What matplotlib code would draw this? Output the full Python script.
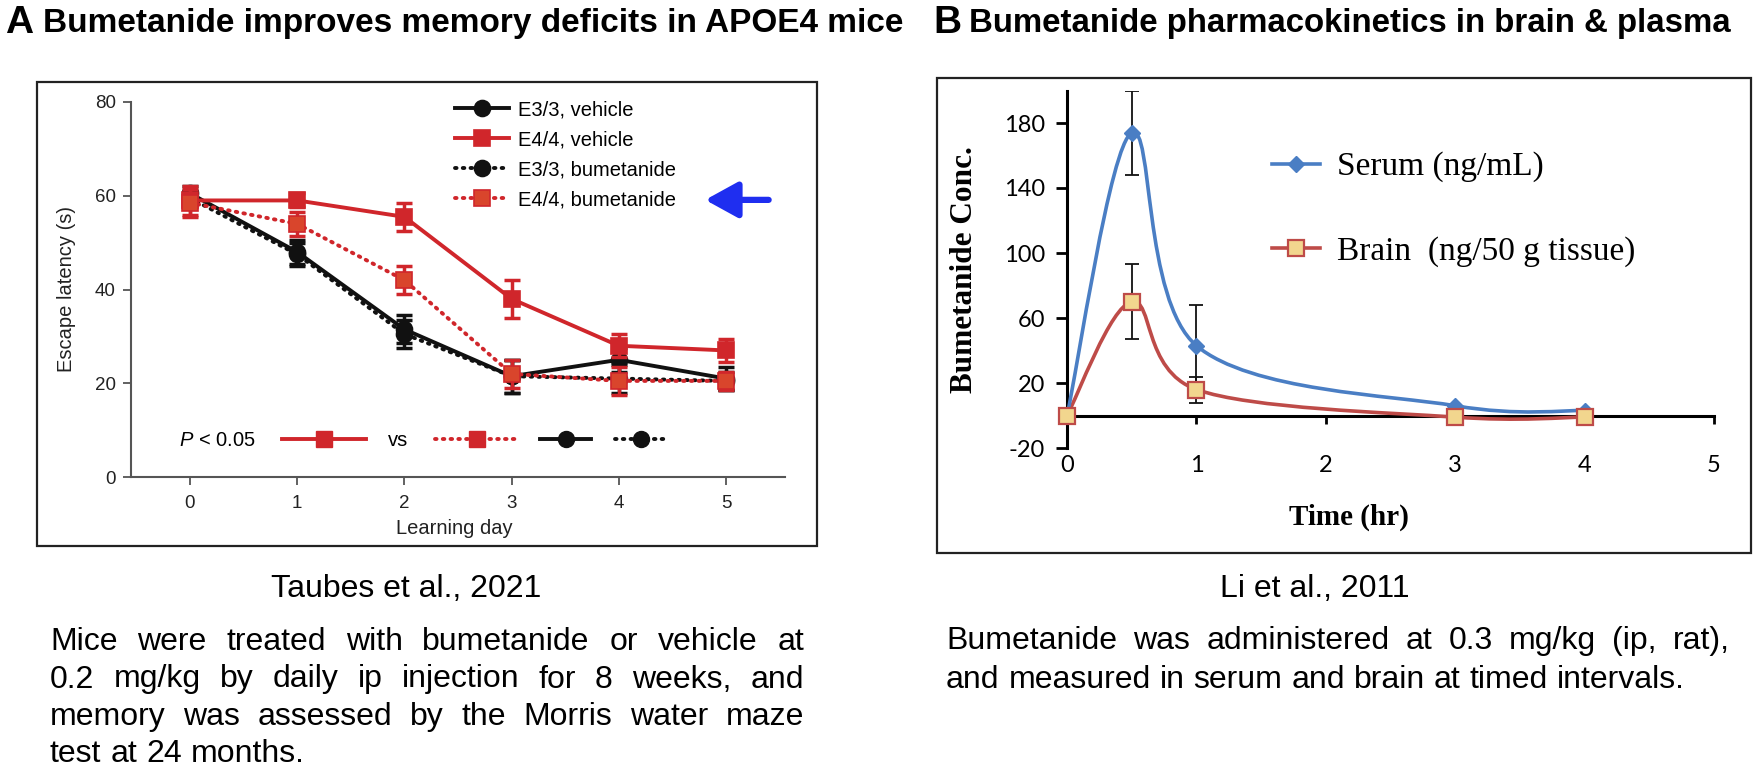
import numpy as np
import matplotlib
matplotlib.use('Agg')
import matplotlib.pyplot as plt
from matplotlib.patches import Rectangle, PathPatch
from matplotlib.path import Path
from matplotlib.lines import Line2D
from matplotlib.legend_handler import HandlerLine2D

plt.rcParams['font.family'] = ['Liberation Sans', 'DejaVu Sans']
plt.rcParams['mathtext.fontset'] = 'custom'
plt.rcParams['mathtext.it'] = 'Liberation Sans:italic'
plt.rcParams['mathtext.rm'] = 'Liberation Sans'

# ---------------- Panel A data (Taubes et al., 2021) ----------------
days = [0, 1, 2, 3, 4, 5]
e33_vehicle = [60.5, 48.0, 31.5, 21.5, 25.0, 21.0]
e33_vehicle_err = [1.5, 2.5, 3.0, 3.5, 2.5, 2.5]
e44_vehicle = [59.0, 59.0, 55.5, 38.0, 28.0, 27.0]
e44_vehicle_err = [3.0, 1.5, 3.0, 4.0, 2.5, 2.5]
e33_bumetanide = [59.5, 47.5, 30.5, 21.5, 21.0, 20.5]
e33_bumetanide_err = [1.5, 2.5, 3.0, 3.5, 3.0, 2.0]
e44_bumetanide = [58.5, 54.0, 42.0, 22.0, 20.5, 20.5]
e44_bumetanide_err = [3.0, 2.5, 3.0, 3.0, 3.0, 2.0]
labels_a = ['E3/3, vehicle', 'E4/4, vehicle', 'E3/3, bumetanide', 'E4/4, bumetanide']
yticks_a = [0, 20, 40, 60, 80]

# ---------------- Panel B data (Li et al., 2011) ----------------
times = [0, 0.5, 1, 3, 4]
serum = [0, 174, 43, 6, 3]
serum_err = [0, 26, 25, 0, 0]
brain = [0, 70, 16, -1, -1]
brain_err = [0, 23, 8, 0, 0]
labels_b = ['Serum (ng/mL)', 'Brain  (ng/50 g tissue)']
yticks_b = [-20, 20, 60, 100, 140, 180]
xticks_b = [0, 1, 2, 3, 4, 5]

W, H, DPI = 1756, 771, 100
SANS = 'Liberation Sans'
SERIF = 'Liberation Serif'
TICKB = 'Lato'

fig = plt.figure(figsize=(W / DPI, H / DPI), dpi=DPI)


def fx(px):
    return px / W


def fy(py):
    return 1 - py / H


# ---------------- titles ----------------
fig.text(fx(5), fy(33), 'A', size=28, weight='bold', va='baseline', family=SANS)
fig.text(fx(43), fy(32), 'Bumetanide improves memory deficits in APOE4 mice',
         size=24, weight='bold', va='baseline', family=SANS)
fig.text(fx(933), fy(33), 'B', size=28, weight='bold', va='baseline', family=SANS)
fig.text(fx(969), fy(32), 'Bumetanide pharmacokinetics in brain & plasma',
         size=23.8, weight='bold', va='baseline', family=SANS)

# ---------------- frames ----------------
for (x0, y0, x1, y1) in [(37, 82, 817, 546), (937, 78, 1751, 553)]:
    fig.patches.append(Rectangle((fx(x0), fy(y1)), (x1 - x0) / W, (y1 - y0) / H,
                                 transform=fig.transFigure, fill=False,
                                 ec='#222222', lw=1.6))

# ---------------- Panel A ----------------
RED = '#d0262b'
RED2 = '#d9452c'
BLK = '#111111'
DOT = (0, (0.4, 1.6))

axA = fig.add_axes([fx(131), fy(477), (785 - 131) / W, (477 - 102) / H])
series = [
    (e33_vehicle, e33_vehicle_err, BLK, BLK, '-', 'o'),
    (e33_bumetanide, e33_bumetanide_err, BLK, BLK, DOT, 'o'),
    (e44_vehicle, e44_vehicle_err, RED, RED, '-', 's'),
    (e44_bumetanide, e44_bumetanide_err, RED, RED2, DOT, 's'),
]
handles = {}
for i, (vals, err, col, face, ls, mk) in enumerate(series):
    axA.errorbar(days, vals, yerr=err, fmt='none', ecolor=col, elinewidth=2.5,
                 capsize=6, capthick=2.5, zorder=2 + i)
    ln, = axA.plot(days, vals, color=col, ls=ls, lw=2.8, marker=mk, ms=11.5,
                   mfc=face, mec=col, mew=1.2, dash_capstyle='round',
                   zorder=2.5 + i, clip_on=False)
    handles[i] = ln

order = [0, 2, 1, 3]
leg1 = axA.legend([handles[k] for k in order], labels_a, loc='upper left',
                  bbox_to_anchor=(0.495, 1.005), frameon=False,
                  prop={'family': SANS, 'size': 14.5}, handlelength=2.7,
                  handletextpad=0.45, labelspacing=0.55, borderpad=0,
                  borderaxespad=0)
axA.add_artist(leg1)


class ScaledHandler(HandlerLine2D):
    """Legend key drawn shorter and shifted left inside its slot."""

    def __init__(self, frac=1.0, shift=0.0, **kw):
        super().__init__(**kw)
        self.frac = frac
        self.shift = shift

    def create_artists(self, legend, orig_handle, xdescent, ydescent, width,
                       height, fontsize, trans):
        return super().create_artists(legend, orig_handle,
                                      xdescent + self.shift * fontsize,
                                      ydescent, width * self.frac, height,
                                      fontsize, trans)


h_keys = [
    Line2D([], [], color=RED, lw=2.8, marker='s', ms=11.5, mfc=RED),
    Line2D([], [], color=RED, lw=2.8, ls=DOT, marker='s', ms=11.5, mfc=RED,
           dash_capstyle='round'),
    Line2D([], [], color=BLK, lw=2.8, marker='o', ms=11.5),
    Line2D([], [], color=BLK, lw=2.8, ls=DOT, marker='o', ms=11.5,
           dash_capstyle='round'),
]
hmap = {h_keys[2]: ScaledHandler(frac=0.6, shift=1.39),
        h_keys[3]: ScaledHandler(frac=0.6, shift=4.27)}
axA.legend(h_keys, [r'$P$ < 0.05', 'vs', '', ''], ncol=4, markerfirst=False,
           loc='center left', bbox_to_anchor=(0.073, 0.096), frameon=False,
           prop={'family': SANS, 'size': 14.5}, handlelength=4.17,
           handletextpad=1.34, columnspacing=1.09, borderpad=0,
           borderaxespad=0, handler_map=hmap)

axA.annotate('', xy=(0.878, 0.739), xytext=(0.975, 0.739),
             xycoords='axes fraction',
             arrowprops=dict(arrowstyle='-|>,head_length=1.0,head_width=0.55',
                             color='#1f2ef0', lw=4.5, mutation_scale=20,
                             shrinkA=0, shrinkB=0))

axA.set_xlim(-0.55, 5.55)
axA.set_ylim(0, 80)
axA.set_xticks(days)
axA.set_yticks(yticks_a)
for s in ['top', 'right']:
    axA.spines[s].set_visible(False)
for s in ['left', 'bottom']:
    axA.spines[s].set_color('#555555')
    axA.spines[s].set_linewidth(1.5)
axA.tick_params(direction='out', length=6, width=1.3, color='#555555',
                labelsize=13.5, labelcolor='#222222')
axA.tick_params(axis='x', pad=7)
axA.tick_params(axis='y', pad=5)
axA.set_ylabel('Escape latency (s)', size=14.5, color='#222222', va='center')
axA.yaxis.set_label_coords(-0.098, 0.5)
axA.set_xlabel('Learning day', size=14.5, color='#222222', va='center')
axA.xaxis.set_label_coords(0.495, -0.136)

# ---------------- Panel B ----------------
BLUE = '#4a7ec4'
DRED = '#be4b48'
TAN = '#f2d68e'

axB = fig.add_axes([fx(1067), fy(448), (1714 - 1067) / W, (448 - 90.5) / H])


def smooth_path(xs, ys):
    P = np.column_stack([xs, ys]).astype(float)
    n = len(P)
    verts = [P[0]]
    codes = [Path.MOVETO]
    for i in range(n - 1):
        p0 = P[i - 1] if i > 0 else P[i]
        p3 = P[i + 2] if i + 2 < n else P[i + 1]
        c1 = P[i] + (P[i + 1] - p0) / 6.0
        c2 = P[i + 1] - (p3 - P[i]) / 6.0
        verts += [c1, c2, P[i + 1]]
        codes += [Path.CURVE4] * 3
    return Path(verts, codes)


t_arr = np.array(times)
for vals, err, col in [(brain, brain_err, DRED), (serum, serum_err, BLUE)]:
    axB.add_patch(PathPatch(smooth_path(times, vals), fill=False, ec=col,
                            lw=2.6, zorder=3, clip_on=False))
    e = np.array(err)
    m = e > 0
    axB.errorbar(t_arr[m], np.array(vals)[m], yerr=e[m], fmt='none',
                 ecolor='#111111', elinewidth=1.3, capsize=5, capthick=1.3,
                 zorder=2)

axB.plot(times, serum, ls='none', marker='D', ms=8, color=BLUE, zorder=4,
         clip_on=False)
axB.plot(times, brain, ls='none', marker='s', ms=11, mfc=TAN, mec=DRED,
         mew=1.6, zorder=4, clip_on=False)

hb = [Line2D([], [], color=BLUE, lw=2.6, marker='D', ms=8),
      Line2D([], [], color=DRED, lw=2.6, marker='s', ms=11, mfc=TAN, mec=DRED,
             mew=1.6)]
axB.legend(hb, labels_b, loc='upper left', bbox_to_anchor=(0.317, 0.829),
           frameon=False, prop={'family': SERIF, 'size': 24},
           handlelength=1.44, handletextpad=0.5, labelspacing=1.6,
           borderpad=0, borderaxespad=0)

axB.set_xlim(0, 5)
axB.set_ylim(-20, 200)
for s in ['top', 'right']:
    axB.spines[s].set_visible(False)
axB.spines['bottom'].set_position(('data', 0))
for s in ['left', 'bottom']:
    axB.spines[s].set_color('black')
    axB.spines[s].set_linewidth(2.2)
axB.set_xticks(xticks_b)
axB.tick_params(axis='x', direction='out', length=6, width=2,
                labelbottom=False)
axB.set_yticks(yticks_b, labels=[str(v) for v in yticks_b],
               fontfamily=TICKB, fontsize=17)
axB.tick_params(axis='y', direction='out', length=8, width=2, pad=8)
sec = axB.secondary_xaxis('bottom')
sec.set_xticks(xticks_b, labels=[str(v) for v in xticks_b],
               fontfamily=TICKB, fontsize=17)
sec.tick_params(length=0, pad=5)
sec.spines['bottom'].set_visible(False)

axB.set_ylabel('Bumetanide Conc.', family=SERIF, weight='bold', size=22.5,
               va='center')
axB.yaxis.set_label_coords(-0.159, 0.498)
axB.set_xlabel('Time (hr)', family=SERIF, weight='bold', size=21,
               va='center')
axB.xaxis.set_label_coords(0.436, -0.193)

# ---------------- captions ----------------
fig.text(fx(406), fy(597), 'Taubes et al., 2021', ha='center', va='baseline',
         size=23, family=SANS)
fig.text(fx(1315), fy(597), 'Li et al., 2011', ha='center', va='baseline',
         size=23, family=SANS)

para_a = ['Mice were treated with bumetanide or vehicle at',
          '0.2 mg/kg by daily ip injection for 8 weeks, and',
          'memory was assessed by the Morris water maze',
          'test at 24 months.']
para_b = ['Bumetanide was administered at 0.3 mg/kg (ip, rat),',
          'and measured in serum and brain at timed intervals.']

renderer = fig.canvas.get_renderer()


def justified(lines, x0, x1, base0, dy, size):
    space = 0.278 * size * DPI / 72.0
    for i, line in enumerate(lines):
        words = line.split()
        y = fy(base0 + i * dy)
        arts = [fig.text(0, y, w, size=size, family=SANS, va='baseline')
                for w in words]
        widths = [a.get_window_extent(renderer).width for a in arts]
        if i == len(lines) - 1 or len(words) < 2:
            gap = space
        else:
            gap = (x1 - x0 - sum(widths)) / (len(words) - 1)
        x = x0
        for a, wd in zip(arts, widths):
            a.set_x(fx(x))
            x += wd + gap


justified(para_a, 50, 804, 650, 37.5, 23)
justified(para_b, 946, 1730, 649, 38.5, 23)

fig.savefig('out.png', dpi=DPI)
